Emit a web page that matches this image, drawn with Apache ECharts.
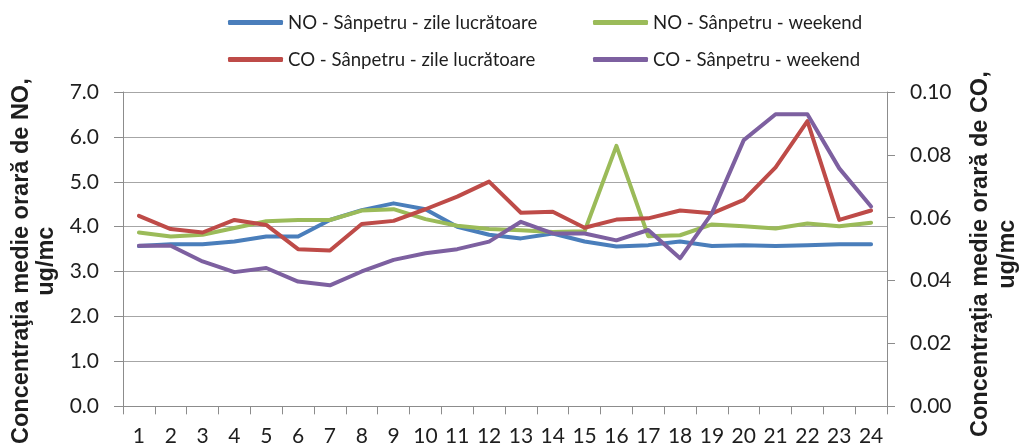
<!DOCTYPE html>
<html>
<head>
<meta charset="utf-8">
<script src="https://cdn.jsdelivr.net/npm/echarts@6/dist/echarts.min.js"></script>
<style>
html,body{margin:0;padding:0;background:#fff;}
#c{width:1029px;height:447px;}
</style>
</head>
<body>
<div id="c"></div>
<script>
var hours = ['1','2','3','4','5','6','7','8','9','10','11','12','13','14','15','16','17','18','19','20','21','22','23','24'];
var noWorkdays = [3.57,3.61,3.61,3.67,3.78,3.78,4.15,4.37,4.52,4.39,4.00,3.82,3.74,3.85,3.67,3.56,3.59,3.67,3.57,3.59,3.57,3.59,3.61,3.61];
var noWeekend = [3.87,3.78,3.82,3.97,4.12,4.15,4.15,4.36,4.39,4.17,4.02,3.95,3.92,3.88,3.90,5.80,3.79,3.81,4.05,4.01,3.96,4.07,4.01,4.09];
var coWorkdays = [0.0606,0.0564,0.0553,0.0593,0.0577,0.0500,0.0496,0.0580,0.0590,0.0627,0.0667,0.0715,0.0616,0.0619,0.0568,0.0594,0.0598,0.0623,0.0614,0.0657,0.0760,0.0907,0.0593,0.0623];
var coWeekend = [0.0511,0.0511,0.0461,0.0427,0.0440,0.0397,0.0385,0.0429,0.0466,0.0487,0.0500,0.0524,0.0587,0.0550,0.0550,0.0528,0.0561,0.0471,0.0614,0.0847,0.0929,0.0929,0.0757,0.0636];
var names = ['NO - Sânpetru - zile lucrătoare','NO - Sânpetru - weekend','CO - Sânpetru - zile lucrătoare','CO - Sânpetru - weekend'];
var colors = ['#4A7EBB','#9BBB59','#BE4B48','#7D60A0'];
var leftTitle = 'Concentraţia medie orară de NO,\nug/mc';
var rightTitle = 'Concentraţia medie orară de CO,\nug/mc';

var FONT = 'Lato';
var TITLE_FONT = 'Liberation Sans';
var TXT = '#1e1e1e';
var AX = '#8c8c8c';

function legendAt(name, left, top) {
  return {
    data: [name], left: left, top: top, padding: 0,
    icon: 'roundRect', itemWidth: 55, itemHeight: 5, itemGap: 0,
    textStyle: {fontFamily: FONT, fontSize: 18.6, color: TXT, padding: [0,0,0,0]},
    selectedMode: false
  };
}
function lineSeries(i, data, axisIdx) {
  return {
    name: names[i], type: 'line', data: data, yAxisIndex: axisIdx,
    symbol: 'none', smooth: false, color: colors[i],
    lineStyle: {width: 4, color: colors[i], cap: 'round', join: 'round'},
    emphasis: {disabled: true}, animation: false
  };
}

var chart = echarts.init(document.getElementById('c'), null, {renderer: 'canvas'});
chart.setOption({
  animation: false,
  backgroundColor: '#fff',
  legend: [
    legendAt(names[0], 228, 13),
    legendAt(names[1], 593, 13),
    legendAt(names[2], 228, 50),
    legendAt(names[3], 593, 50)
  ],
  grid: {left: 123, right: 125, top: 92, bottom: 40, containLabel: false},
  xAxis: {
    type: 'category', data: hours, boundaryGap: true,
    axisLine: {show: true, lineStyle: {color: AX, width: 1}},
    axisTick: {show: true, length: 8, alignWithLabel: false, lineStyle: {color: AX}},
    axisLabel: {fontFamily: FONT, fontSize: 21, color: TXT, margin: 19, interval: 0}
  },
  yAxis: [
    {
      type: 'value', min: 0, max: 7, interval: 1, position: 'left',
      name: leftTitle, nameLocation: 'middle', nameRotate: 90, nameGap: 62,
      nameTextStyle: {fontFamily: TITLE_FONT, fontSize: 23.5, fontWeight: 'bold', color: TXT, lineHeight: 25, align: 'center', padding: [0, 24, 0, 0]},
      axisLine: {show: true, lineStyle: {color: AX}},
      axisTick: {show: true, length: 9, lineStyle: {color: AX}},
      splitLine: {show: true, lineStyle: {color: '#a6a6a6', width: 1}},
      axisLabel: {fontFamily: FONT, fontSize: 21, color: TXT, margin: 24, formatter: function(v){return v.toFixed(1);}}
    },
    {
      type: 'value', min: 0, max: 0.1, interval: 0.02, position: 'right',
      name: rightTitle, nameLocation: 'middle', nameRotate: 90, nameGap: 80,
      nameTextStyle: {fontFamily: TITLE_FONT, fontSize: 23.5, fontWeight: 'bold', color: TXT, lineHeight: 27, align: 'center', padding: [0, 10, 0, 0]},
      axisLine: {show: true, lineStyle: {color: AX}},
      axisTick: {show: true, length: 8, lineStyle: {color: AX}},
      splitLine: {show: false},
      axisLabel: {fontFamily: FONT, fontSize: 21, color: TXT, margin: 23, formatter: function(v){return v.toFixed(2);}}
    }
  ],
  series: [
    lineSeries(0, noWorkdays, 0),
    lineSeries(1, noWeekend, 0),
    lineSeries(2, coWorkdays, 1),
    lineSeries(3, coWeekend, 1)
  ]
});
</script>
</body>
</html>
